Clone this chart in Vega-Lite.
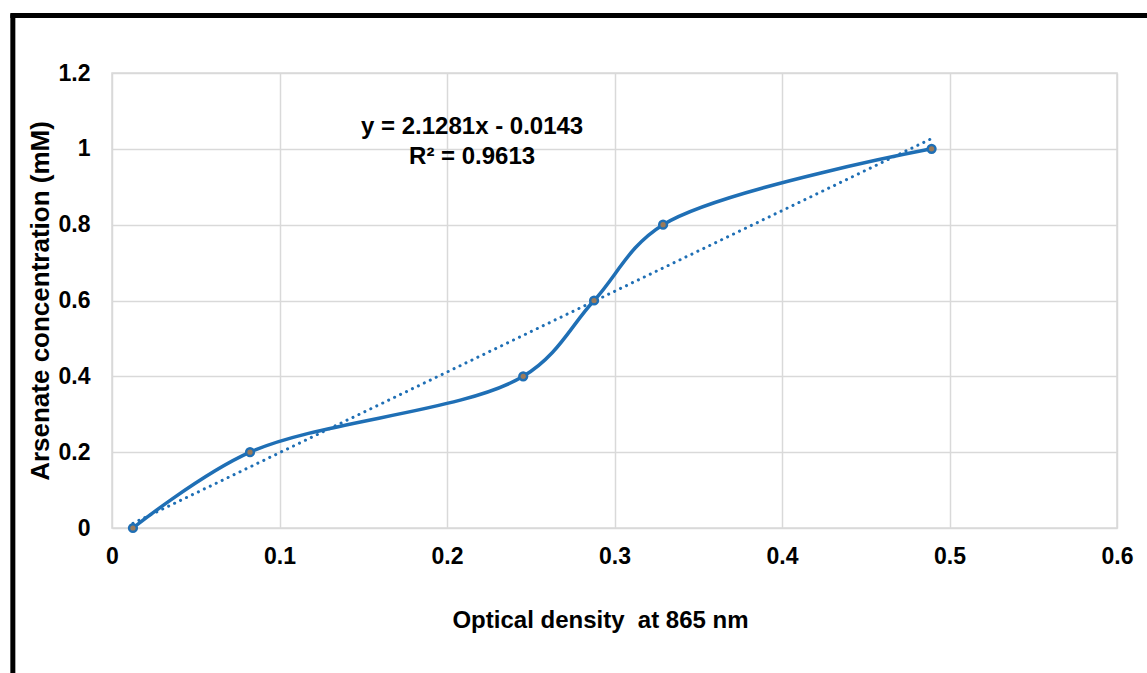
{
  "$schema": "https://vega.github.io/schema/vega-lite/v6.json",
  "autosize": "none",
  "width": 1005,
  "height": 455,
  "padding": {"left": 112, "top": 73, "right": 30, "bottom": 145},
  "background": "white",
  "config": {
    "font": "Liberation Sans",
    "view": {"stroke": "#d9d9d9", "strokeWidth": 1.5},
    "axis": {
      "labelFont": "Liberation Sans",
      "titleFont": "Liberation Sans",
      "labelFontSize": 23,
      "titleFontSize": 24,
      "labelFontWeight": "bold",
      "titleFontWeight": "bold",
      "labelColor": "#000000",
      "titleColor": "#000000",
      "gridColor": "#d9d9d9",
      "gridWidth": 1.5,
      "domain": false,
      "ticks": false,
      "labelFlush": false,
      "labelOverlap": false
    }
  },
  "datasets": {
    "obs": [
      {"od": 0.0125, "conc": 0.0},
      {"od": 0.0824, "conc": 0.2},
      {"od": 0.2455, "conc": 0.4},
      {"od": 0.2878, "conc": 0.6},
      {"od": 0.3290, "conc": 0.8},
      {"od": 0.4893, "conc": 1.0}
    ],
    "trend": [
      {"od": 0.0125, "conc": 0.0123},
      {"od": 0.4893, "conc": 1.0270}
    ],
    "label": [
      {"od": 0.215, "conc": 1.058, "text": "y = 2.1281x - 0.0143"},
      {"od": 0.215, "conc": 0.979, "text": "R² = 0.9613"}
    ],
    "frame": [{"kind": "frame"}]
  },
  "layer": [
    {
      "data": {"name": "trend"},
      "mark": {"type": "line", "color": "#1f6fb5", "strokeWidth": 3, "strokeDash": [0.1, 6.5], "strokeCap": "round"},
      "encoding": {
        "x": {"field": "od", "type": "quantitative", "scale": {"domain": [0, 0.6], "nice": false, "zero": false},
          "axis": {"values": [0, 0.1, 0.2, 0.3, 0.4, 0.5, 0.6], "format": "~g", "labelPadding": 17, "titlePadding": 40, "titleX": 488, "titleAlign": "center", "title": "Optical density\u00a0 at 865 nm"}},
        "y": {"field": "conc", "type": "quantitative", "scale": {"domain": [0, 1.2], "nice": false, "zero": false},
          "axis": {"values": [0, 0.2, 0.4, 0.6, 0.8, 1, 1.2], "format": "~g", "labelPadding": 22, "titlePadding": 5, "titleFontSize": 26, "title": "Arsenate concentration (mM)"}}
      }
    },
    {
      "data": {"name": "obs"},
      "mark": {"type": "line", "interpolate": "catmull-rom", "color": "#1f6fb5", "strokeWidth": 3.5},
      "encoding": {
        "x": {"field": "od", "type": "quantitative"},
        "y": {"field": "conc", "type": "quantitative"}
      }
    },
    {
      "data": {"name": "obs"},
      "mark": {"type": "point", "shape": "circle", "filled": true, "fill": "#9a7a5a", "stroke": "#1f6fb5", "strokeWidth": 2.5, "size": 60, "opacity": 1},
      "encoding": {
        "x": {"field": "od", "type": "quantitative"},
        "y": {"field": "conc", "type": "quantitative"}
      }
    },
    {
      "data": {"name": "label"},
      "mark": {"type": "text", "fontSize": 24, "fontWeight": "bold", "font": "Liberation Sans", "color": "#000000", "align": "center", "baseline": "middle"},
      "encoding": {
        "x": {"field": "od", "type": "quantitative"},
        "y": {"field": "conc", "type": "quantitative"},
        "text": {"field": "text"}
      }
    },
    {
      "data": {"name": "frame"},
      "mark": {"type": "rule", "color": "#000000", "strokeWidth": 5, "clip": false},
      "encoding": {
        "x": {"datum": -0.0592},
        "y": {"datum": -0.4},
        "y2": {"datum": 1.355}
      }
    },
    {
      "data": {"name": "frame"},
      "mark": {"type": "rule", "color": "#000000", "strokeWidth": 5, "clip": false},
      "encoding": {
        "y": {"datum": 1.3517},
        "x": {"datum": -0.0607},
        "x2": {"datum": 0.65}
      }
    }
  ]
}
